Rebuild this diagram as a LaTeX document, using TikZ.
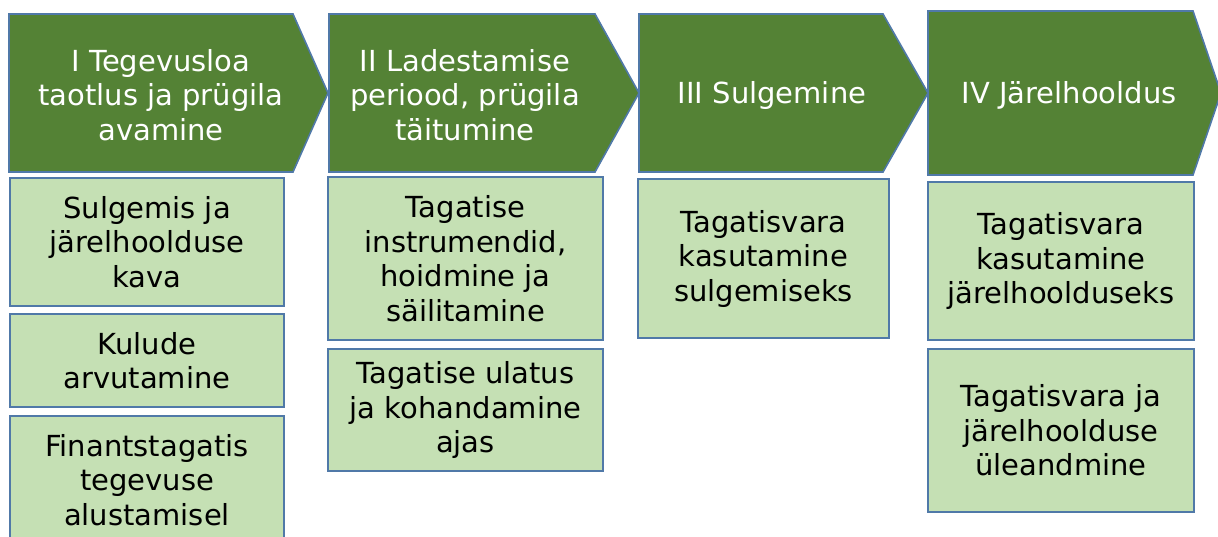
\documentclass[tikz,border=0pt]{standalone}
\usepackage{fontspec}
\setmainfont{DejaVu Sans}
\usepackage{xcolor}
\usetikzlibrary{math}
\definecolor{tumeroheline}{HTML}{548235}
\definecolor{heleroheline}{HTML}{C5E0B4}
\definecolor{servjoon}{HTML}{5079A8}

\begin{document}
\begin{tikzpicture}[x=1pt,y=-1pt,
	faas/.style={fill=tumeroheline,draw=servjoon,line width=1.6pt,line join=miter},
	faastekst/.style={text=white,align=center,inner sep=0pt,font=\fontsize{29}{34.5}\selectfont},
	kast/.style={draw=servjoon,fill=heleroheline,line width=1.6pt,align=center,inner sep=0pt,font=\fontsize{29}{34.5}\selectfont}]
\useasboundingbox (0,0) rectangle (1218,536);
\clip (0,0) rectangle (1218,536);
\tikzmath{
	\yyla = 14;\yala = 172;\ykesk = 93;
	% I
	{\coordinate (a1) at (9,\yyla);};
	{\coordinate (b1) at (293,\yyla);};
	{\coordinate (c1) at (328,\ykesk);};
	{\coordinate (d1) at (293,\yala);};
	{\coordinate (e1) at (9,\yala);};
	% II
	{\coordinate (a2) at (329,\yyla);};
	{\coordinate (b2) at (595,\yyla);};
	{\coordinate (c2) at (639,\ykesk);};
	{\coordinate (d2) at (595,\yala);};
	{\coordinate (e2) at (329,\yala);};
	% III
	{\coordinate (a3) at (639,\yyla);};
	{\coordinate (b3) at (883,\yyla);};
	{\coordinate (c3) at (928,\ykesk);};
	{\coordinate (d3) at (883,\yala);};
	{\coordinate (e3) at (639,\yala);};
	% IV
	{\coordinate (a4) at (928,\yyla-3);};
	{\coordinate (b4) at (1193,\yyla-3);};
	{\coordinate (c4) at (1221,\ykesk);};
	{\coordinate (d4) at (1193,\yala+3);};
	{\coordinate (e4) at (928,\yala+3);};
	%
	{\filldraw[faas] plot[] coordinates {(a1) (b1) (c1) (d1) (e1)} -- cycle;};
	{\filldraw[faas] plot[] coordinates {(a2) (b2) (c2) (d2) (e2)} -- cycle;};
	{\filldraw[faas] plot[] coordinates {(a3) (b3) (c3) (d3) (e3)} -- cycle;};
	{\filldraw[faas] plot[] coordinates {(a4) (b4) (c4) (d4) (e4)} -- cycle;};
};
\node[faastekst] (f1) at (161,95) {I Tegevusloa\\taotlus ja prügila\\avamine};
\node[faastekst] (f2) at (465,95) {II Ladestamise\\periood, prügila\\täitumine};
\node[faastekst] (f3) at (772,95) {III Sulgemine};
\node[faastekst] (f4) at (1069,95) {IV Järelhooldus};
%
\node[kast,minimum width=274,minimum height=128] (k11) at (147,242) {Sulgemis ja\\järelhoolduse\\kava};
\node[kast,minimum width=274,minimum height=93] (k12) at (147,360.5) {Kulude\\arvutamine};
\node[kast,minimum width=274,minimum height=128] (k13) at (147,480) {Finantstagatis\\tegevuse\\alustamisel};
\node[kast,minimum width=275,minimum height=163] (k21) at (465.5,258.5) {Tagatise\\instrumendid,\\hoidmine ja\\säilitamine};
\node[kast,minimum width=275,minimum height=122] (k22) at (465.5,410) {Tagatise ulatus\\ja kohandamine\\ajas};
\node[kast,minimum width=251,minimum height=159] (k31) at (763.5,258.5) {Tagatisvara\\kasutamine\\sulgemiseks};
\node[kast,minimum width=266,minimum height=158] (k41) at (1061,261) {Tagatisvara\\kasutamine\\järelhoolduseks};
\node[kast,minimum width=266,minimum height=163] (k42) at (1061,430.5) {Tagatisvara ja\\järelhoolduse\\üleandmine};
\end{tikzpicture}
\end{document}
